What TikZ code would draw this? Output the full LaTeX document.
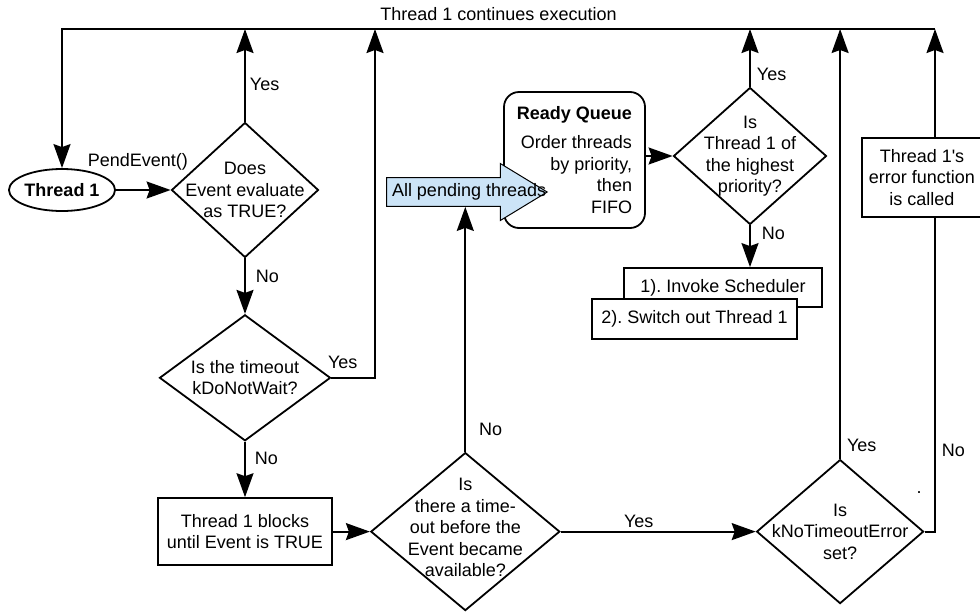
\documentclass[tikz,border=0pt]{standalone}
\usepackage{fontspec}
\setmainfont{Liberation Sans}
\usetikzlibrary{shapes.geometric,shapes.arrows,arrows.meta,positioning,calc}
\frenchspacing

\begin{document}
\begin{tikzpicture}[x=1pt, y=-1pt, line width=1.8pt,
    every node/.style={font=\fontsize{18}{21.5}\selectfont},
    decision/.style={diamond, draw, inner sep=0pt},
    process/.style={rectangle, draw, fill=white, align=center, inner sep=0pt},
    arrow/.style={-{Stealth[length=24pt,width=17pt,inset=3pt]}},
    lbl/.style={inner sep=2pt}]
    \useasboundingbox (0,0) rectangle (980,611);

    % Start
    \node[ellipse, draw, inner sep=0pt, minimum width=103pt, minimum height=42pt, font=\fontsize{18}{21.5}\selectfont\bfseries] (thread) at (62,190) {Thread 1};

    % Left column
    \node[decision, minimum width=147pt, minimum height=135pt, label={[align=center]center:Does\\Event evaluate\\as TRUE?}] (evtrue) at (245,190) {};
    \node[decision, minimum width=171pt, minimum height=126pt, below=55.5pt of evtrue, label={[align=center]center:Is the timeout\\kDoNotWait?}] (nowait) {};
    \node[process, minimum width=174pt, minimum height=67pt, below=55.5pt of nowait] (blocks) {Thread 1 blocks\\until Event is TRUE};

    % Bottom row
    \node[decision, minimum width=189pt, minimum height=158pt, right=37pt of blocks, label={[align=center, yshift=4pt]center:Is\\there a time-\\out before the\\Event became\\available?}] (timeout) {};
    \node[decision, minimum width=167pt, minimum height=144pt, right=195pt of timeout, label={[align=center]center:Is\\kNoTimeoutError\\set?}] (errset) {};
    \node[process, minimum width=120pt, minimum height=79pt] (errfunc) at (922,177.5) {Thread 1\textquotesingle s\\error function\\is called};
    \node[inner sep=0pt] (speck) at (919,493) {.};

    % Ready queue
    \node[rectangle, draw, rounded corners=15pt, minimum width=141pt, minimum height=136pt, align=right] (queue) at (574.5,160) {\textbf{Ready Queue}\\[8pt]Order threads\\by priority,\\then\\FIFO};
    \node[single arrow, draw, fill={rgb,255:red,204;green,228;blue,247}, line width=1pt, inner xsep=5pt, inner ysep=5.5pt, single arrow head extend=14pt, single arrow tip angle=62.6, anchor=tail] (pending) at (386,192) {\makebox[126pt][l]{All pending threads}};
    \node[decision, minimum width=153pt, minimum height=137pt, label={[align=center]center:Is\\Thread 1 of\\the highest\\priority?}] (highest) at (750,156) {};
    \node[process, minimum width=198pt, minimum height=39pt] (invoke) at (723,287.5) {1). Invoke Scheduler};
    \node[process, minimum width=205pt, minimum height=40pt] (switch) at (694.5,319) {2). Switch out Thread 1};

    % Return line
    \coordinate (topleft) at (62,29);
    \coordinate (topright) at (935,29);
    \coordinate (skip) at (375,29);

    % Connections
    \draw[arrow] (topright) -- node[lbl, above=5pt] {Thread 1 continues execution} (topleft) -- (thread);
    \draw[arrow] (thread) -- node[lbl, above=17pt, pos=0.4] {PendEvent()} (evtrue);
    \draw[arrow] (evtrue) -- node[lbl, right=2pt, pos=0.4] {Yes} (evtrue |- topleft);
    \draw[arrow] (evtrue) -- node[lbl, right=8pt, pos=0.33] {No} (nowait);
    \draw[arrow] (nowait.east) -| node[lbl, above=6pt, pos=0.13] {Yes} (skip);
    \draw[arrow] (nowait) -- node[lbl, right=7pt, pos=0.3] {No} (blocks);
    \draw[arrow] (blocks) -- (timeout);
    \draw[arrow] (timeout) -- node[lbl, right=11pt, pos=0.09] {No} (timeout |- pending.-90);
    \draw[arrow] (timeout) -- node[lbl, above=1pt, pos=0.4] {Yes} (errset);
    \draw[arrow] (errset) -- node[lbl, right=4pt, pos=0.03] {Yes} (errset |- topleft);
    \draw (errset.east) -| node[lbl, right=4pt, pos=0.63] {No} (topright |- errfunc.south);
    \draw[arrow] (topright |- errfunc.north) -- (topright);
    \draw[arrow] (queue.east |- highest) -- (highest);
    \draw[arrow] (highest) -- node[lbl, right=4pt, pos=0.21] {Yes} (highest |- topleft);
    \draw[arrow] (highest) -- node[lbl, right=9pt, pos=0.2] {No} (highest |- invoke.north);
\end{tikzpicture}
\end{document}
